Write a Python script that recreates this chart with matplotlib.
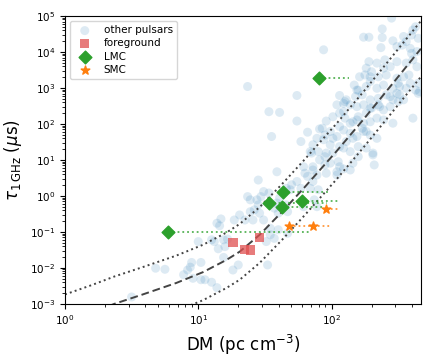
import numpy as np
import matplotlib
matplotlib.use("Agg")
import matplotlib.pyplot as plt

# other pulsars: (log10 DM, log10 tau_1GHz in us)
other_pts = [
    (2.45, 4.94), (2.38, 4.64), (2.24, 4.41), (2.28, 4.41), (2.38, 4.40), (2.46, 4.31),
    (2.54, 4.43), (2.60, 4.47), (2.63, 4.70), (2.65, 4.38), (1.94, 4.06), (2.37, 4.12),
    (2.49, 4.15), (2.53, 4.19), (2.59, 4.10), (2.64, 4.01), (2.56, 4.29), (2.61, 4.61),
    (2.28, 3.73), (2.34, 3.69), (2.26, 3.55), (2.30, 3.45), (2.40, 3.78), (2.44, 3.59),
    (2.49, 3.73), (2.56, 3.69), (2.61, 3.78), (2.64, 3.59), (2.39, 3.55), (2.60, 3.96),
    (2.21, 3.31), (2.25, 3.36), (2.29, 3.31), (2.35, 3.31), (2.41, 3.36), (2.49, 3.27),
    (2.54, 3.31), (2.58, 3.36), (2.29, 3.18), (2.50, 3.13),
    (1.37, 3.04), (2.17, 3.08), (2.19, 2.94), (2.26, 3.04), (2.34, 2.99), (2.39, 3.08),
    (2.46, 2.99), (2.51, 3.04), (2.59, 3.13), (2.65, 3.13), (2.20, 2.94), (2.44, 2.76),
    (2.49, 2.85), (2.56, 2.99), (2.63, 2.94), (2.65, 2.85), (1.74, 2.79), (2.06, 2.79),
    (2.11, 2.67), (2.18, 2.76), (2.23, 2.81), (2.29, 2.67), (2.35, 2.71), (2.41, 2.81),
    (2.46, 2.67), (2.51, 2.81), (2.66, 2.90),
    (1.53, 2.34), (1.61, 2.32), (2.04, 2.53), (2.09, 2.57), (2.14, 2.53), (2.19, 2.48),
    (2.24, 2.53), (2.29, 2.44), (2.35, 2.53), (2.39, 2.39), (2.44, 2.48), (2.50, 2.62),
    (2.54, 2.67), (2.36, 2.48), (2.30, 2.44), (2.10, 2.62), (1.74, 2.08), (1.96, 2.08),
    (2.01, 2.20), (2.06, 2.30), (2.10, 2.16), (2.14, 2.02), (2.19, 2.11), (2.24, 2.02),
    (2.29, 2.06), (2.34, 2.16), (2.39, 2.11), (2.61, 2.16), (2.09, 2.34), (2.16, 2.06),
    (2.26, 2.30), (2.20, 2.20), (2.46, 2.02),
    (1.82, 1.77), (1.55, 1.65), (1.77, 1.51), (1.91, 1.86), (1.95, 1.69), (1.99, 1.79),
    (2.04, 1.65), (2.09, 1.83), (2.14, 1.74), (2.19, 1.65), (2.24, 1.79), (2.29, 1.69),
    (2.34, 1.60), (1.93, 1.88), (2.06, 1.93), (2.23, 1.88), (2.26, 1.79), (1.86, 1.42),
    (1.90, 1.23), (1.99, 1.42), (2.09, 1.33), (2.14, 1.23), (2.20, 1.37), (2.26, 1.33),
    (2.31, 1.19), (1.89, 1.60), (1.94, 1.56), (2.01, 1.60), (2.11, 1.51), (2.16, 1.60),
    (2.06, 1.37), (1.84, 1.23), (1.95, 1.09), (2.01, 1.19),
    (1.85, 1.19), (1.91, 1.00), (1.96, 1.19), (1.95, 0.86), (1.99, 0.91), (2.05, 0.95),
    (2.20, 1.09), (2.31, 1.14), (2.32, 0.86), (2.14, 0.72), (1.80, 0.63), (1.82, 0.54),
    (1.86, 0.72), (1.89, 0.58), (1.96, 0.63), (2.04, 0.58), (1.59, 0.67), (1.45, 0.44),
    (2.16, 0.91), (1.79, 0.81), (1.86, 0.81), (2.06, 0.81), (2.04, 0.67), (2.09, 0.75),
    (1.86, 0.40), (1.49, 0.12), (1.53, 0.08), (1.66, 0.21), (1.70, 0.31), (1.74, 0.40),
    (1.77, 0.21), (1.69, 0.17), (1.37, -0.02), (1.39, -0.11), (1.44, -0.11), (1.47, -0.02),
    (1.45, -0.25), (1.42, -0.39), (1.39, -0.44), (1.46, -0.48), (1.59, -0.20), (1.57, -0.34),
    (1.61, -0.06), (1.67, -0.44), (1.66, -0.25), (1.60, -0.48), (1.84, 0.21), (1.90, 0.17),
    (1.87, -0.11), (1.89, -0.30), (1.79, -0.30),
    (1.31, -0.53), (1.27, -0.67), (1.35, -0.67), (1.41, -0.67), (1.49, -0.67), (1.14, -0.76),
    (1.16, -0.83), (1.17, -0.64), (1.54, -0.90), (1.60, -0.94), (1.57, -1.18), (1.54, -1.08),
    (1.51, -1.27), (1.67, -1.04), (1.00, -1.27), (1.10, -1.22), (1.12, -1.27), (1.15, -1.47),
    (1.19, -1.22), (1.20, -1.41), (1.22, -1.20),
    (1.19, -1.71), (1.30, -1.92), (1.26, -2.06), (1.52, -1.92), (0.68, -2.01), (0.75, -2.04),
    (0.89, -2.19), (0.92, -2.06), (0.94, -1.98), (0.95, -1.85), (0.96, -2.29), (1.02, -1.85),
    (1.02, -2.33), (1.05, -2.33), (1.10, -2.40), (1.14, -2.55), (0.50, -2.81),
]

fg_dm = [18.2, 28.9, 22.3, 24.7]
fg_tau = [0.050, 0.0695, 0.033, 0.0316]

lmc_dm = [80, 5.9, 43, 34, 42.5, 59.5]
lmc_tau = [1850, 0.098, 1.27, 0.63, 0.50, 0.73]
lmc_dm_hi = [135, 69, 95, 92, 86, 115]

smc_dm = [90.6, 48, 72]
smc_tau = [0.44, 0.147, 0.147]
smc_dm_hi = [115, 70, 97]

# relation curves (log10 DM, log10 tau)
curve_logdm = [0.0, 0.2, 0.371, 0.583, 0.835, 1.035, 1.211, 1.311, 1.461, 1.629, 1.8, 2.037, 2.238, 2.438, 2.67]
mid_logtau = [-3.54, -3.26, -3.0, -2.74, -2.42, -2.12, -1.78, -1.55, -1.08, -0.44, 0.25, 1.24, 2.12, 3.03, 4.09]
up_logtau = [-2.74, -2.48, -2.24, -1.98, -1.66, -1.36, -1.02, -0.78, -0.31, 0.33, 1.02, 2.01, 2.89, 3.80, 4.86]
lo_logtau = [-4.32, -4.04, -3.78, -3.52, -3.20, -2.90, -2.56, -2.33, -1.86, -1.22, -0.53, 0.46, 1.34, 2.25, 3.31]

other = np.array(other_pts)
cx = 10 ** np.array(curve_logdm)

fig, ax = plt.subplots(figsize=(4.36, 3.63), dpi=100)
fig.subplots_adjust(left=0.149, right=0.966, top=0.956, bottom=0.163)

ax.scatter(10 ** other[:, 0], 10 ** other[:, 1], s=42, color="C0", alpha=0.15,
           edgecolors="none", label="other pulsars", zorder=1)

ax.plot(cx, 10 ** np.array(mid_logtau), ls=(0, (4, 2)), color="#444444", lw=1.4, zorder=2)
ax.plot(cx, 10 ** np.array(up_logtau), ls=":", color="#444444", lw=1.4, zorder=2)
ax.plot(cx, 10 ** np.array(lo_logtau), ls=":", color="#444444", lw=1.4, zorder=2)

ax.scatter(fg_dm, fg_tau, marker="s", s=45, color="#e05050", alpha=0.75, edgecolors="none",
           label="foreground", zorder=3)

ax.hlines(lmc_tau, lmc_dm, lmc_dm_hi, colors="#2ca02c", linestyles=":", lw=1.3, alpha=0.8, zorder=3)
ax.scatter(lmc_dm, lmc_tau, marker="D", s=42, color="#2ca02c", label="LMC", zorder=4)

ax.hlines(smc_tau, smc_dm, smc_dm_hi, colors="#ff7f0e", linestyles=":", lw=1.3, alpha=0.8, zorder=3)
ax.scatter(smc_dm, smc_tau, marker="*", s=42, color="#ff7f0e", label="SMC", zorder=4)

ax.set_xscale("log")
ax.set_yscale("log")
ax.set_xlim(1, 470)
ax.set_ylim(1e-3, 1e5)
ax.tick_params(labelsize=7.5)
ax.set_xlabel(r"DM (pc cm$^{-3}$)", fontsize=12)
ax.set_ylabel(r"$\tau_{\rm 1\,GHz}$ ($\mu$s)", fontsize=12)
ax.legend(loc="upper left", fontsize=7.5, labelspacing=0.3)

fig.savefig("out.png", dpi=100)
